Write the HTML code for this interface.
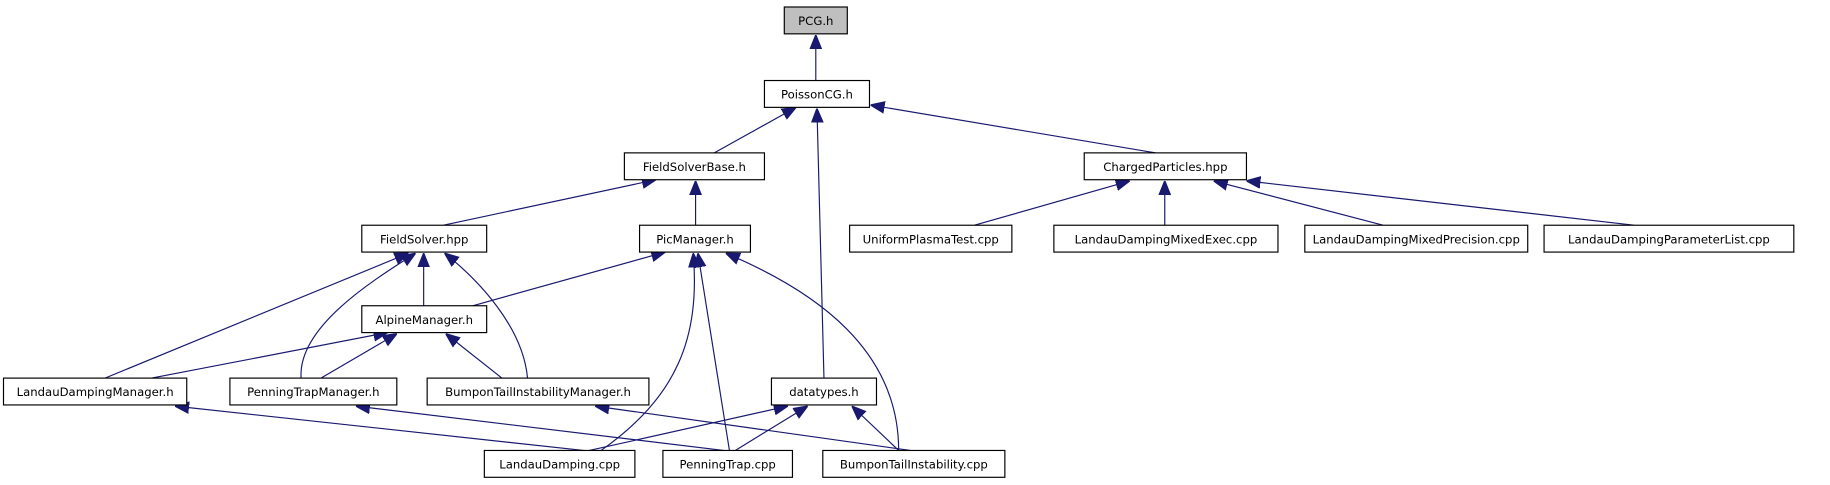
<!DOCTYPE html>
<html><head><meta charset="utf-8"><style>
html,body{margin:0;padding:0;background:#fff;}
svg{display:block;}
text{font-family:"DejaVu Sans","Liberation Sans",sans-serif;font-size:10px;fill:#000;text-anchor:middle;}
rect{fill:#fff;stroke:#000;stroke-width:1;}
path{fill:none;stroke:#191970;stroke-width:1;}
</style></head><body>
<svg width="1830" height="485" viewBox="0 0 1568 415.6" preserveAspectRatio="none" xmlns="http://www.w3.org/2000/svg">
<defs>
<marker id="a" markerUnits="userSpaceOnUse" markerWidth="12" markerHeight="12" refX="10" refY="5" orient="auto" viewBox="0 0 10 10">
<polygon points="0,1 10,5 0,9" fill="#191970" stroke="#191970"/>
</marker>
</defs>
<g>
<path d="M699 69 L699 30" marker-end="url(#a)"/>
<path d="M612 131 L682 92" marker-end="url(#a)"/>
<path d="M990 131 L746 90" marker-end="url(#a)"/>
<path d="M706 324 L700 93" marker-end="url(#a)"/>
<path d="M380 193 L562 154" marker-end="url(#a)"/>
<path d="M596 193 L596 155" marker-end="url(#a)"/>
<path d="M835 193 L968 155" marker-end="url(#a)"/>
<path d="M998 193 L998 155" marker-end="url(#a)"/>
<path d="M1185 193 L1040 155" marker-end="url(#a)"/>
<path d="M1400 193 L1068 155" marker-end="url(#a)"/>
<path d="M363 262 L363 217" marker-end="url(#a)"/>
<path d="M405 262 L570 216" marker-end="url(#a)"/>
<path d="M90 324 L350 217" marker-end="url(#a)"/>
<path d="M258 324 C 255 280 320 240 356 217" marker-end="url(#a)"/>
<path d="M452 324 C 448 280 410 240 381 217" marker-end="url(#a)"/>
<path d="M130 324 L332 285" marker-end="url(#a)"/>
<path d="M275 324 L340 286" marker-end="url(#a)"/>
<path d="M430 324 L382 286" marker-end="url(#a)"/>
<path d="M515 386 C 580 340 600 290 594 217" marker-end="url(#a)"/>
<path d="M625 386 L598 217" marker-end="url(#a)"/>
<path d="M770 386 C 770 300 700 250 622 217" marker-end="url(#a)"/>
<path d="M500 386 L150 348" marker-end="url(#a)"/>
<path d="M620 386 L305 348" marker-end="url(#a)"/>
<path d="M780 386 L510 348" marker-end="url(#a)"/>
<path d="M505 386 L675 348" marker-end="url(#a)"/>
<path d="M630 386 L692 348" marker-end="url(#a)"/>
<path d="M770 386 L730 348" marker-end="url(#a)"/>
</g>
<g>
<rect x="672" y="6" width="54" height="23" style="fill:#bfbfbf"/><text x="699" y="21.5">PCG.h</text>
<rect x="655" y="69" width="90" height="23"/><text x="700" y="84.5">PoissonCG.h</text>
<rect x="535" y="131" width="120" height="23"/><text x="595" y="146.5">FieldSolverBase.h</text>
<rect x="929" y="131" width="139" height="23"/><text x="998.5" y="146.5">ChargedParticles.hpp</text>
<rect x="310" y="193" width="107" height="23"/><text x="363.5" y="208.5">FieldSolver.hpp</text>
<rect x="548" y="193" width="95" height="23"/><text x="595.5" y="208.5">PicManager.h</text>
<rect x="728" y="193" width="139" height="23"/><text x="797.5" y="208.5">UniformPlasmaTest.cpp</text>
<rect x="903" y="193" width="192" height="23"/><text x="999" y="208.5">LandauDampingMixedExec.cpp</text>
<rect x="1118" y="193" width="191" height="23"/><text x="1213.5" y="208.5">LandauDampingMixedPrecision.cpp</text>
<rect x="1323" y="193" width="214" height="23"/><text x="1430" y="208.5">LandauDampingParameterList.cpp</text>
<rect x="310" y="262" width="107" height="23"/><text x="363.5" y="277.5">AlpineManager.h</text>
<rect x="3" y="324" width="157" height="23"/><text x="81.5" y="339.5">LandauDampingManager.h</text>
<rect x="197" y="324" width="143" height="23"/><text x="268.5" y="339.5">PenningTrapManager.h</text>
<rect x="366" y="324" width="190" height="23"/><text x="461" y="339.5">BumponTailInstabilityManager.h</text>
<rect x="661" y="324" width="90" height="23"/><text x="706" y="339.5">datatypes.h</text>
<rect x="415" y="386" width="129" height="23"/><text x="479.5" y="401.5">LandauDamping.cpp</text>
<rect x="568" y="386" width="111" height="23"/><text x="623.5" y="401.5">PenningTrap.cpp</text>
<rect x="705" y="386" width="156" height="23"/><text x="783" y="401.5">BumponTailInstability.cpp</text>
</g>
</svg>
</body></html>
